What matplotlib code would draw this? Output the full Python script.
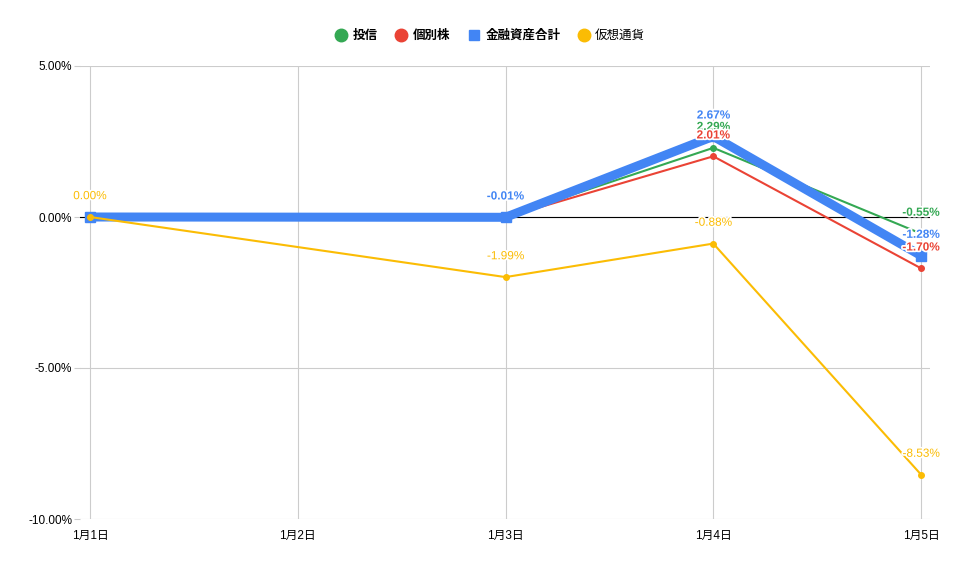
import numpy as np
import matplotlib.pyplot as plt
import matplotlib.patheffects as pe
from matplotlib.lines import Line2D

plt.rcParams['font.family'] = ['Liberation Sans', 'Noto Sans CJK JP', 'DejaVu Sans']

# data (percent); 1月2日 has no values
dates = ['1月1日', '1月2日', '1月3日', '1月4日', '1月5日']
toushin = [0.00, np.nan, 0.00, 2.29, -0.55]
kobetsu = [0.00, np.nan, -0.01, 2.01, -1.70]
goukei = [0.00, np.nan, -0.01, 2.67, -1.28]
kasou = [0.00, np.nan, -1.99, -0.88, -8.53]

# which points carry a value label
toushin_lab = [3, 4]
kobetsu_lab = [3, 4]
goukei_lab = [2, 3, 4]
kasou_lab = [0, 2, 3, 4]

names = ['投信', '個別株', '金融資産合計', '仮想通貨']
colors = ['#34A853', '#EA4335', '#4285F4', '#FBBC04']

series = [
    (toushin, toushin_lab, 1.5, 'o', 4, 'bold'),
    (kobetsu, kobetsu_lab, 1.5, 'o', 4, 'bold'),
    (goukei, goukei_lab, 6.5, 's', 7, 'bold'),
    (kasou, kasou_lab, 1.5, 'o', 4, 'normal'),
]

fig = plt.figure(figsize=(9.6, 5.69), dpi=100)
ax = fig.add_axes([80 / 960, 1 - 519 / 569, 850 / 960, 453 / 569])

x = np.arange(len(dates))
for (vals, labs, lw, mk, ms, wt), col in zip(series, colors):
    v = np.array(vals, dtype=float)
    ok = ~np.isnan(v)
    ax.plot(x[ok], v[ok], color=col, lw=lw, marker=mk, ms=ms,
            solid_joinstyle='miter', zorder=3)
    for i in labs:
        ax.annotate(f'{v[i]:.2f}%', (x[i], v[i]), xytext=(0, 15),
                    textcoords='offset points', ha='center', va='center',
                    fontsize=8.5, color=col, fontweight=wt, zorder=5,
                    path_effects=[pe.withStroke(linewidth=2.5, foreground='white')])

ax.set_xlim(-0.048, 4.043)
ax.set_ylim(-10, 5)
ax.set_xticks(x)
ax.set_xticklabels(dates)
ax.set_yticks([-10, -5, 0, 5])
ax.set_yticklabels([f'{t:.2f}%' for t in [-10, -5, 0, 5]])
ax.grid(True, color='#cccccc', lw=0.8)
ax.axhline(0, color='#000000', lw=0.8, zorder=2)
for s in ax.spines.values():
    s.set_visible(False)
ax.tick_params(axis='x', length=0, pad=8, labelsize=8.5)
ax.tick_params(axis='y', length=4, color='#cccccc', pad=1.5, labelsize=8.5)

handles = [
    Line2D([], [], ls='', marker='o', ms=9, color=colors[0]),
    Line2D([], [], ls='', marker='o', ms=9, color=colors[1]),
    Line2D([], [], ls='', marker='s', ms=7, color=colors[2]),
    Line2D([], [], ls='', marker='o', ms=9, color=colors[3]),
]
leg = fig.legend(handles, names, loc='center', bbox_to_anchor=(0.51, 1 - 36 / 569),
                 ncol=4, frameon=False, fontsize=9, handletextpad=0.3,
                 columnspacing=1.3, handlelength=1.2)
for t in leg.get_texts()[:3]:
    t.set_fontweight('bold')

fig.savefig('out.png', dpi=100)
